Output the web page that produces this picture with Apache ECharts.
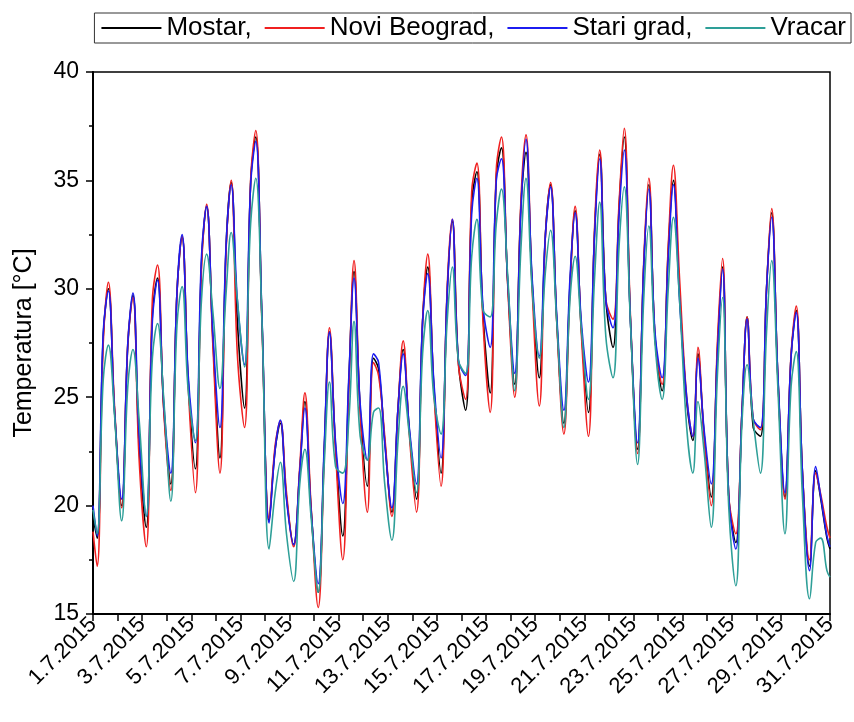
<!DOCTYPE html>
<html>
<head>
<meta charset="utf-8">
<script src="https://cdn.jsdelivr.net/npm/echarts@6/dist/echarts.min.js"></script>
<style>
  html, body { margin: 0; padding: 0; background: #fff; }
  #chart { width: 854px; height: 722px; }
</style>
</head>
<body>
<div id="chart"></div>
<script>
// sample hours within each day (approx. night low, morning rise, afternoon peak, evening fall)
var sampleHours = [4, 10, 15, 21];
var dayCount = 30;

// values: start, then per day [4h, 10h, 15h, 21h], then end (31.7 00h)
var mostar = [19.5,
    18.5, 27.8, 30.0, 24.4,   20.0, 27.4, 29.7, 22.8,   19.0, 28.8, 30.5, 24.6,   21.0, 29.8, 32.4, 25.8,
    21.7, 31.2, 33.8, 27.8,   22.2, 31.9, 34.9, 28.5,   24.5, 34.9, 37.0, 28.7,   19.3, 22.6, 23.8, 20.4,
    18.2, 21.6, 24.8, 19.9,   16.0, 22.7, 28.0, 22.7,   18.6, 25.8, 30.8, 24.5,   20.9, 26.8, 26.3, 23.0,
    19.7, 24.5, 27.2, 23.5,   20.3, 28.5, 31.0, 25.5,   21.5, 29.8, 33.1, 26.6,   24.4, 34.0, 35.4, 28.8,
    25.2, 35.2, 36.5, 30.4,   25.6, 33.8, 36.3, 30.3,   25.9, 32.5, 34.8, 28.6,   23.8, 30.2, 33.6, 28.2,
    24.3, 32.6, 36.2, 29.5,   27.3, 33.8, 37.0, 28.6,   22.6, 31.0, 34.8, 27.8,   25.3, 31.8, 35.0, 29.8,
    24.8, 23.0, 27.0, 23.3,   20.4, 27.2, 31.0, 20.5,   18.3, 24.3, 28.7, 23.6,   23.2, 30.0, 33.5, 26.0,
    20.4, 26.9, 29.0, 21.6,   17.2, 21.6, 20.3, 18.5,
    18.0];
var noviBeograd = [18.8,
    17.2, 27.5, 30.3, 24.6,   19.9, 27.5, 29.6, 22.2,   18.1, 29.5, 31.1, 24.5,   20.7, 29.8, 32.4, 25.5,
    20.6, 31.0, 33.9, 27.5,   21.5, 31.8, 35.0, 27.0,   23.6, 35.0, 37.3, 28.5,   19.4, 22.8, 23.9, 20.6,
    18.1, 21.8, 25.2, 20.0,   15.3, 22.5, 28.2, 22.5,   17.5, 25.5, 31.3, 24.3,   19.7, 26.6, 26.0, 23.2,
    19.5, 24.5, 27.6, 23.3,   19.7, 28.5, 31.6, 25.3,   20.9, 30.0, 33.2, 26.5,   24.9, 34.5, 35.8, 28.5,
    24.3, 35.5, 37.0, 30.3,   25.0, 34.0, 37.1, 30.0,   24.6, 32.5, 34.9, 28.5,   23.3, 30.0, 33.8, 28.0,
    23.2, 32.8, 36.4, 29.5,   28.6, 34.0, 37.4, 28.8,   22.4, 31.2, 35.1, 27.8,   25.6, 32.0, 35.7, 30.5,
    25.0, 23.2, 27.3, 23.2,   20.0, 27.5, 31.4, 20.5,   18.7, 24.3, 28.7, 24.0,   23.5, 30.0, 33.7, 26.0,
    20.3, 27.0, 29.2, 21.6,   17.5, 21.5, 20.5, 19.0,
    18.5];
var stariGrad = [20.0,
    18.6, 28.0, 29.9, 24.4,   20.3, 27.5, 29.8, 23.3,   19.5, 28.5, 30.4, 24.8,   21.5, 29.8, 32.5, 26.0,
    22.9, 31.5, 33.8, 28.0,   23.6, 32.0, 34.8, 29.5,   26.5, 34.8, 36.8, 28.8,   19.2, 22.6, 23.95, 20.3,
    18.2, 21.6, 24.5, 19.8,   16.4, 22.9, 28.0, 22.9,   20.1, 26.0, 30.5, 24.7,   22.1, 27.0, 26.6, 22.9,
    19.9, 24.5, 27.0, 23.6,   21.0, 28.5, 30.7, 25.7,   22.2, 29.8, 33.2, 26.7,   26.0, 33.5, 35.1, 29.2,
    27.3, 35.0, 36.0, 30.5,   26.1, 33.6, 36.9, 30.5,   26.9, 32.5, 34.7, 28.8,   24.4, 30.5, 33.5, 28.5,
    25.7, 32.5, 36.0, 29.5,   28.2, 33.5, 36.4, 28.6,   22.9, 31.0, 34.6, 28.0,   25.9, 31.5, 34.8, 29.5,
    25.0, 23.2, 26.8, 23.5,   21.0, 27.0, 30.9, 20.5,   18.0, 24.3, 28.6, 24.0,   23.6, 30.0, 33.3, 26.1,
    20.6, 26.9, 28.9, 21.6,   17.0, 21.8, 20.4, 18.6,
    18.1];
var vracar = [19.8,
    18.7, 25.8, 27.4, 24.2,   19.3, 25.5, 27.2, 24.0,   19.5, 26.8, 28.4, 25.0,   20.2, 28.3, 30.1, 25.3,
    23.0, 29.5, 31.6, 29.0,   25.4, 29.8, 32.6, 29.5,   26.4, 33.0, 35.1, 28.6,   18.0, 20.6, 22.0, 18.7,
    16.5, 21.0, 22.6, 19.5,   16.0, 22.0, 25.7, 21.8,   21.5, 24.0, 28.5, 23.2,   22.1, 24.3, 24.5, 21.0,
    18.4, 23.0, 25.5, 23.3,   20.6, 27.0, 29.0, 25.0,   23.3, 28.5, 31.0, 26.7,   26.1, 31.5, 33.2, 29.0,
    28.7, 33.0, 34.6, 30.7,   25.3, 31.8, 35.1, 30.0,   26.8, 30.8, 32.7, 28.5,   23.6, 29.5, 31.5, 28.2,
    24.9, 30.5, 34.0, 27.8,   25.9, 32.0, 34.7, 28.5,   21.9, 29.5, 32.9, 27.5,   24.9, 30.0, 33.3, 29.5,
    23.6, 21.5, 24.8, 22.5,   19.0, 26.0, 29.6, 20.0,   16.3, 23.8, 26.5, 23.9,   21.5, 28.0, 31.3, 25.5,
    18.7, 25.5, 27.1, 20.5,   15.7, 18.3, 18.5, 17.0,
    16.7];

var seriesNames = ['Mostar,', 'Novi Beograd,', 'Stari grad,', 'Vracar'];
var seriesColors = ['#000000', '#f02020', '#1c1cf0', '#2e9f98'];

// time axis in days since 1.7.2015 00:00
var times = [0];
for (var d = 0; d < dayCount; d++) {
    for (var h = 0; h < sampleHours.length; h++) {
        times.push(d + sampleHours[h] / 24);
    }
}
times.push(dayCount);

function pairs(values) {
    var out = [];
    for (var i = 0; i < values.length; i++) out.push([times[i], values[i]]);
    return out;
}

var font = 'Liberation Sans, Arial, sans-serif';
var chart = echarts.init(document.getElementById('chart'));

var allValues = [mostar, noviBeograd, stariGrad, vracar];
var series = [];
for (var s = 0; s < seriesNames.length; s++) {
    series.push({
        name: seriesNames[s],
        type: 'line',
        data: pairs(allValues[s]),
        showSymbol: false,
        smooth: 0.4,
        lineStyle: { width: 1.6, color: seriesColors[s] },
        itemStyle: { color: seriesColors[s] }
    });
}

chart.setOption({
    animation: false,
    backgroundColor: '#fff',
    textStyle: { fontFamily: font },
    legend: {
        top: 13,
        right: 3,
        padding: [2, 5, 2, 7],
        itemGap: 13,
        itemWidth: 60,
        itemHeight: 2,
        icon: 'rect',
        borderColor: '#333',
        borderWidth: 1,
        textStyle: { fontSize: 26, color: '#000', fontFamily: font },
        data: seriesNames
    },
    grid: {
        left: 93, right: 24, top: 72, bottom: 108,
        show: true, borderColor: '#000', borderWidth: 1.5
    },
    xAxis: {
        type: 'value',
        min: 0, max: dayCount, interval: 1,
        axisLine: { lineStyle: { color: '#000', width: 2 } },
        axisTick: { length: 7, lineStyle: { color: '#000', width: 1.5 } },
        splitLine: { show: false },
        axisLabel: {
            rotate: 45, margin: 7, fontSize: 22, color: '#000', fontFamily: font,
            formatter: function (v) { return v % 2 === 0 ? (v + 1) + '.7.2015' : ''; }
        }
    },
    yAxis: {
        type: 'value',
        min: 15, max: 40, interval: 5,
        name: 'Temperatura [°C]',
        nameLocation: 'middle',
        nameGap: 56,
        nameTextStyle: { fontSize: 25, color: '#000', fontFamily: font },
        axisLine: { show: true, lineStyle: { color: '#000', width: 2 } },
        axisTick: { show: true, length: 7, lineStyle: { color: '#000', width: 1.5 } },
        minorTick: { show: true, splitNumber: 2, length: 4, lineStyle: { color: '#000', width: 1.5 } },
        splitLine: { show: false },
        axisLabel: { fontSize: 23, margin: 14, color: '#000', fontFamily: font }
    },
    series: series
});
</script>
</body>
</html>
